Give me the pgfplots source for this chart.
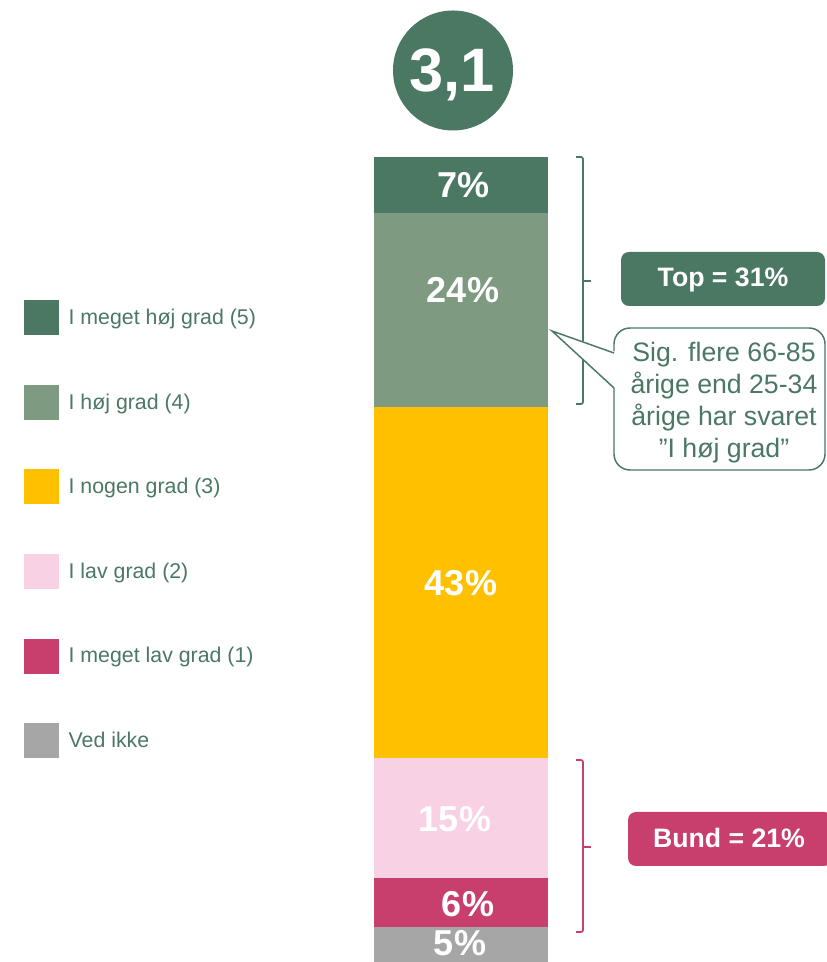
\documentclass[border=0pt]{standalone}
\usepackage{pgfplots}
\pgfplotsset{compat=1.18}
\usepackage{fontspec}
\setmainfont{Liberation Sans}

\definecolor{dgreen}{HTML}{4A7862}
\definecolor{lgreen}{HTML}{7E9A81}
\definecolor{gold}{HTML}{FFC000}
\definecolor{lpink}{HTML}{F9D1E5}
\definecolor{mag}{HTML}{C83E6D}
\definecolor{grey}{HTML}{A6A6A6}

\tikzset{barlab/.style={font=\fontsize{27}{32}\selectfont\bfseries, text=white, text depth=0pt, anchor=center}}

\begin{document}
\begin{tikzpicture}
% 1 px of the reference = 0.75pt
\path[use as bounding box] (0pt,0pt) rectangle (619.5pt,721.5pt);

\begin{axis}[
    at={(280.5pt,0pt)}, anchor=south west,
    width=130.5pt, height=603.75pt, scale only axis,
    xmin=-0.5, xmax=0.5, ymin=0, ymax=100,
    hide axis, clip=false,
    ybar stacked, bar width=130.5pt,
    reverse legend,
    legend style={draw=none, fill=none, at={(-2.0115,0.8224)}, anchor=north west,
        inner sep=0pt, row sep=37.2pt, column sep=5pt,
        font=\fontsize{16}{19}\selectfont, text=dgreen},
    legend cell align=left,
    legend image code/.code={\fill[#1] (0pt,-13.125pt) rectangle (26.25pt,13.125pt);},
]
\addplot[fill=grey, draw=none] coordinates {(0,4.3)};
\addlegendentry{Ved ikke}
\addplot[fill=mag, draw=none] coordinates {(0,6.1)};
\addlegendentry{I meget lav grad (1)}
\addplot[fill=lpink, draw=none] coordinates {(0,15.0)};
\addlegendentry{I lav grad (2)}
\addplot[fill=gold, draw=none] coordinates {(0,43.5)};
\addlegendentry{I nogen grad (3)}
\addplot[fill=lgreen, draw=none] coordinates {(0,24.1)};
\addlegendentry{I høj grad (4)}
\addplot[fill=dgreen, draw=none] coordinates {(0,7.0)};
\addlegendentry{I meget høj grad (5)}
\end{axis}

\begin{scope}[x=0.75pt, y=0.75pt]
% segment labels
\node[barlab] at (460,19) {5\%};
\node[barlab] at (468,58.5) {6\%};
\node[barlab] at (455,143) {15\%};
\node[barlab] at (461,379) {43\%};
\node[barlab] at (463,672.5) {24\%};
\node[barlab] at (463.5,777) {7\%};

% average score
\fill[dgreen] (453,891.5) circle[radius=45pt];
\node[font=\fontsize{46}{50}\selectfont\bfseries, text=white, text depth=0pt] at (452,892) {3,1};

% brackets
\draw[dgreen, line width=1.3pt, rounded corners=1.5pt] (576,805) -- (583,805) -- (583,558) -- (576,558);
\draw[dgreen, line width=1.3pt] (583,681) -- (591,681);
\draw[mag, line width=1.3pt, rounded corners=1.5pt] (576,202) -- (583,202) -- (583,30) -- (576,30);
\draw[mag, line width=1.3pt] (583,115) -- (591,115);

% top / bottom boxes
\fill[dgreen, rounded corners=6pt] (621,656) rectangle (825,710);
\node[font=\fontsize{20}{24}\selectfont\bfseries, text=white, text depth=0pt] at (723,684.5) {Top = 31\%};
\fill[mag, rounded corners=6pt] (628,96) rectangle (832,150);
\node[font=\fontsize{20}{24}\selectfont\bfseries, text=white, text depth=0pt] at (729,124.5) {Bund = 21\%};

% callout
\draw[dgreen, line width=1.1pt, fill=white, rounded corners=12pt] (614,492) rectangle (825,634);
\fill[white] (616,610) -- (552,631) -- (616,573) -- cycle;
\draw[dgreen, line width=1.1pt] (614,609) -- (552,631) -- (614,574);
\node[align=center, text=dgreen, font=\fontsize{20}{24}\selectfont] at (724,559.5)
    {Sig. flere 66-85\\årige end 25-34\\årige har svaret\\”I høj grad”};
\end{scope}
\end{tikzpicture}
\end{document}
